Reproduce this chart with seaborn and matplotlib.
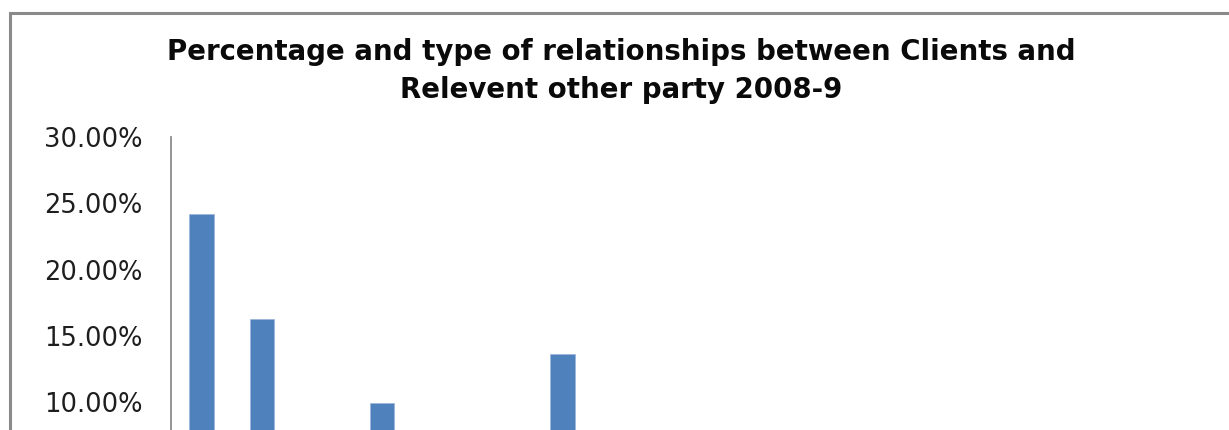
import matplotlib
matplotlib.use("Agg")
import matplotlib.pyplot as plt
from matplotlib.patches import Rectangle
from matplotlib.ticker import FuncFormatter
import seaborn as sns
import pandas as pd

# Relationship types and share of clients, 2008-9
relationships = [
    "Spouse", "Partner", "Ex-spouse", "Ex-partner", "Boyfriend/girlfriend",
    "Ex boyfriend/girlfriend", "Parent", "Child", "Sibling", "Other relative",
    "Friend", "Neighbour", "Acquaintance", "Landlord", "Employer",
    "Professional", "Other",
]
share = [
    0.242, 0.163, 0.061, 0.099, 0.035,
    0.042, 0.136, 0.050, 0.024, 0.018,
    0.031, 0.012, 0.026, 0.009, 0.015,
    0.007, 0.029,
]
y_ticks = [0.0, 0.05, 0.10, 0.15, 0.20, 0.25, 0.30]

title_lines = [
    "Percentage and type of relationships between Clients and",
    "Relevent other party 2008-9",
]

df = pd.DataFrame({"relationship": relationships, "share": share})

sns.set_theme(style="white")
plt.rcParams["font.family"] = ["DejaVu Sans"]

W, H = 1229, 430
fig = plt.figure(figsize=(W / 100, H / 100), dpi=100)
fig.patch.set_facecolor("white")

# plot area in pixel terms: left edge, right edge, top (30%) and baseline (0%)
left_px, right_px = 171.4, 1194.3
top_px, base_px = 137.0, 534.5
ax = fig.add_axes([
    left_px / W,
    1 - base_px / H,
    (right_px - left_px) / W,
    (base_px - top_px) / H,
])

sns.barplot(data=df, x="relationship", y="share", color="#4F81BD",
            saturation=1, width=0.4, ax=ax, edgecolor="#9DB6DA",
            linewidth=0.6)

ax.set_ylim(0, 0.30)
ax.set_yticks(y_ticks)
ax.yaxis.set_major_formatter(FuncFormatter(lambda v, _: f"{v * 100:.2f}%"))
ax.tick_params(axis="y", length=0, pad=21, labelsize=18.5, labelcolor="#1E1E1E")
# the category axis sits below the visible area
ax.tick_params(axis="x", length=0, labelbottom=False)
ax.set_xlabel("")
ax.set_ylabel("")

for side in ("top", "right"):
    ax.spines[side].set_visible(False)
for side in ("left", "bottom"):
    ax.spines[side].set_color("#8C8C8C")
    ax.spines[side].set_linewidth(1.3)

# chart border
fig.patches.append(Rectangle((9.5 / W, -1.0), 2.0, 1.0 + (1 - 13 / H),
                             transform=fig.transFigure, fill=False,
                             edgecolor="#8A8A8A", linewidth=2.2, zorder=0))

fig.text(621 / W, 1 - 52.5 / H, title_lines[0], ha="center", va="center",
         fontsize=19.9, fontweight="bold", color="#0A0A0A")
fig.text(621 / W, 1 - 89.5 / H, title_lines[1], ha="center", va="center",
         fontsize=19.9, fontweight="bold", color="#0A0A0A")

fig.savefig("out.png", dpi=100, facecolor="white")
